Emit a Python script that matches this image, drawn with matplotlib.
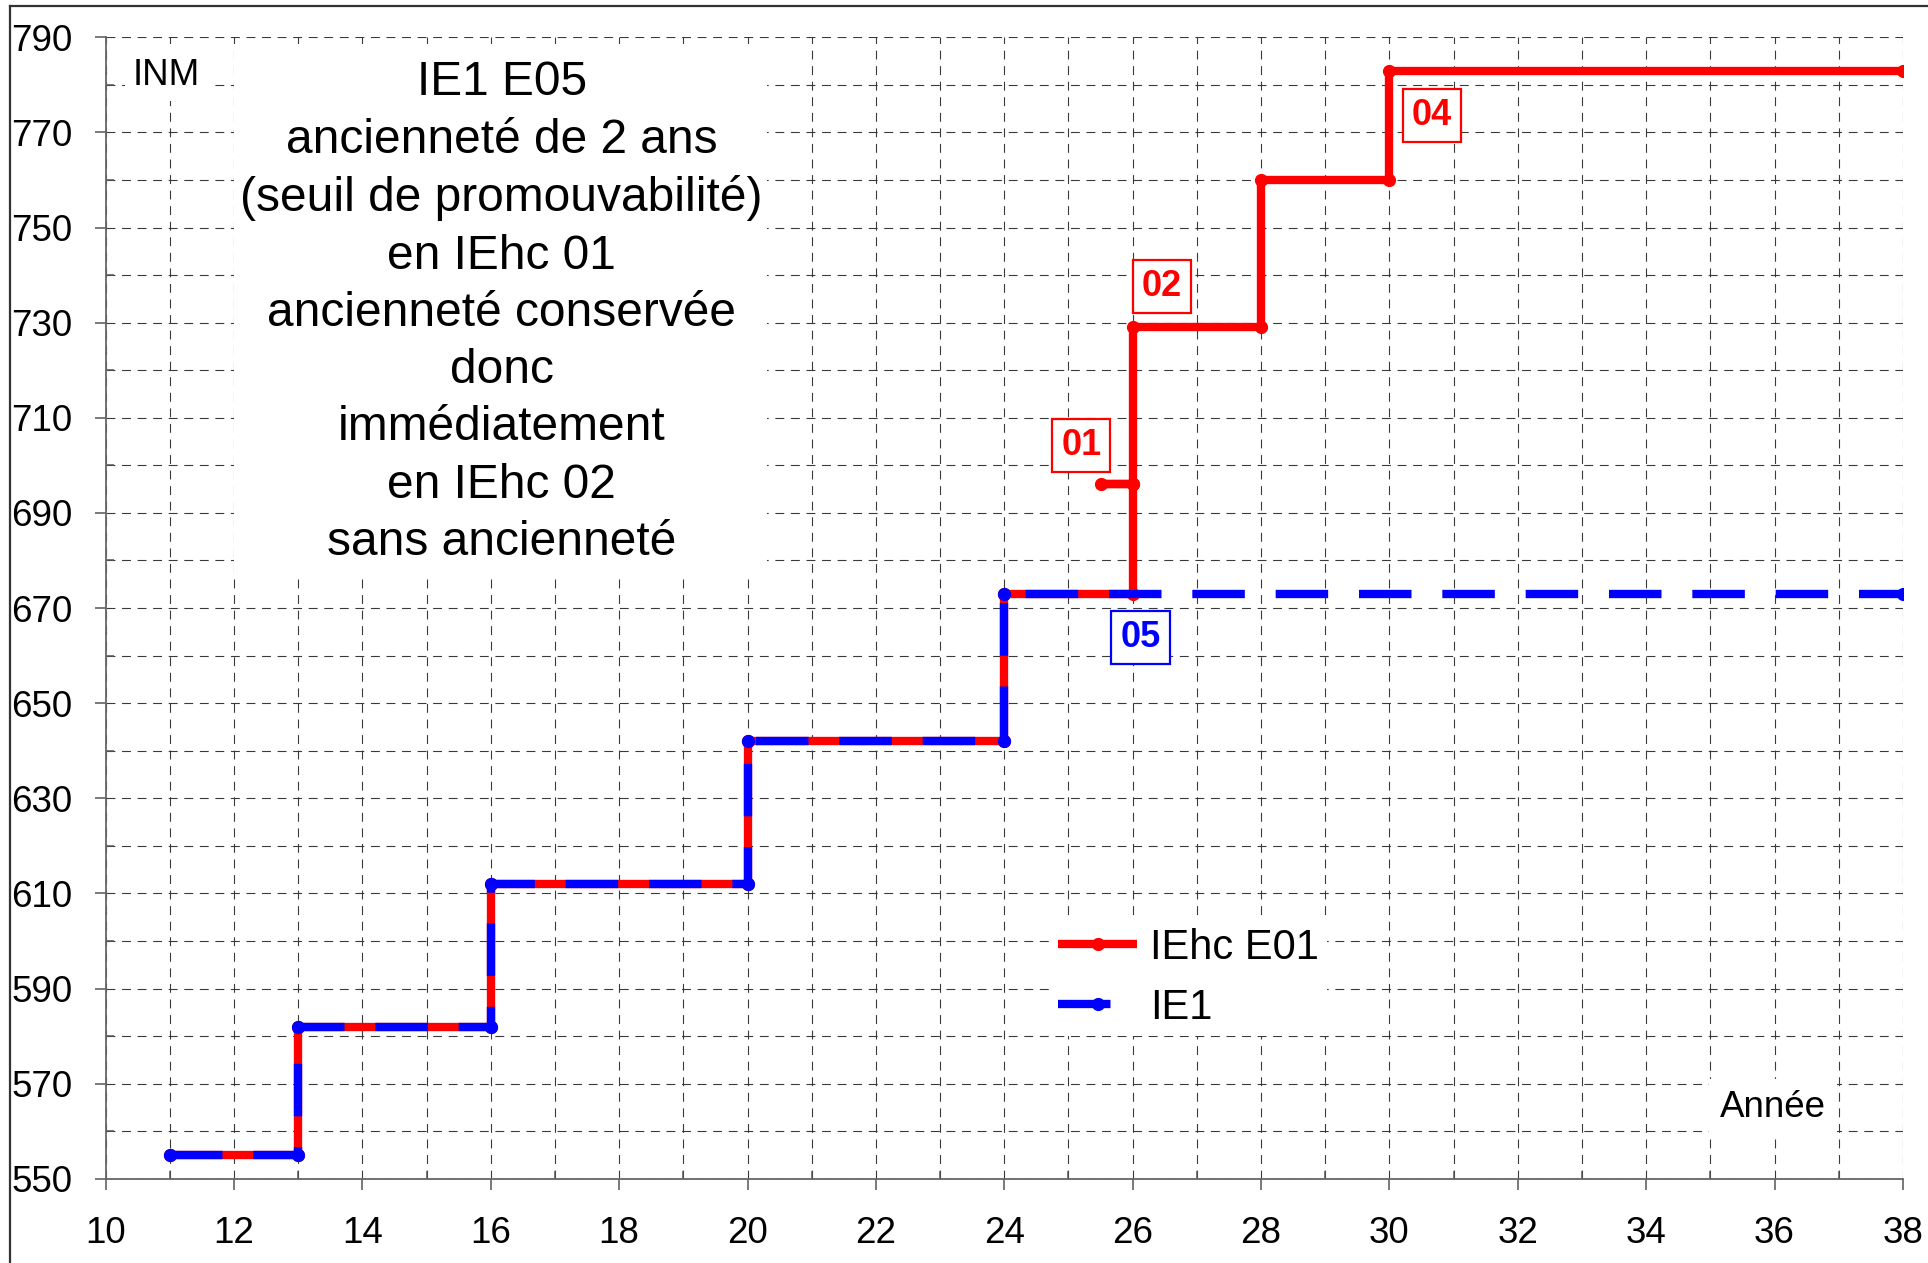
import matplotlib
matplotlib.use("Agg")
import matplotlib.pyplot as plt
from matplotlib.patches import Rectangle
from matplotlib.lines import Line2D
from matplotlib.ticker import FixedLocator, MultipleLocator

plt.rcParams['font.family'] = ['Liberation Sans', 'DejaVu Sans']

# Data
iehc_years = [11, 13, 13, 16, 16, 20, 20, 24, 24, 26, 26, 25.5, 26, 26, 28, 28, 30, 30, 38]
iehc_inm = [555, 555, 582, 582, 612, 612, 642, 642, 673, 673, 696, 696, 696, 729, 729, 760, 760, 783, 783]
ie1_years = [11, 13, 13, 16, 16, 20, 20, 24, 24, 38]
ie1_inm = [555, 555, 582, 582, 612, 612, 642, 642, 673, 673]

series_names = ["IEhc E01", "IE1"]
y_major_ticks = [550, 570, 590, 610, 630, 650, 670, 690, 710, 730, 750, 770, 790]
y_minor_ticks = [560, 580, 600, 620, 640, 660, 680, 700, 720, 740, 760, 780]
title_lines = ["IE1 E05", "ancienneté de 2 ans", "(seuil de promouvabilité)",
               "en IEhc 01", "ancienneté conservée", "donc", "immédiatement",
               "en IEhc 02", "sans ancienneté"]
step_labels = ["01", "02", "04", "05"]
step_label_x = [25.2, 26.46, 30.66, 26.12]
step_label_y = [704.2, 737.5, 773.6, 663.8]
step_label_colors = ["#FF0000", "#FF0000", "#FF0000", "#0000FF"]

fig = plt.figure(figsize=(19.28, 12.63), dpi=100)
ax = fig.add_axes([0.0548, 0.0667, 0.9322, 0.9038])

ax.set_xlim(10, 38)
ax.set_ylim(550, 790)
ax.xaxis.set_major_locator(MultipleLocator(2))
ax.xaxis.set_minor_locator(MultipleLocator(1))
ax.yaxis.set_major_locator(FixedLocator(y_major_ticks))
ax.yaxis.set_minor_locator(FixedLocator(y_minor_ticks))

ax.set_axisbelow(True)
ax.grid(which='both', linestyle=(0, (8, 6)), color='#3a3a3a', linewidth=0.8)

for s in ['top', 'right']:
    ax.spines[s].set_visible(False)
for s in ['left', 'bottom']:
    ax.spines[s].set_color('#666666')
    ax.spines[s].set_linewidth(1.3)

ax.tick_params(which='major', direction='out', length=8, width=1.1, color='#555555',
               labelsize=26.5, pad=16)
ax.tick_params(which='minor', direction='in', length=6, width=1.1, color='#555555')
ax.tick_params(axis='x', which='major', pad=19)

# white box behind title text
ax.add_patch(Rectangle((12.0, 677), 8.3, 111, facecolor='white', edgecolor='none', zorder=1))

lw = 6.0
ax.plot(iehc_years, iehc_inm, color='#FF0000', linewidth=lw, marker='o', markersize=8.5,
        solid_joinstyle='miter', solid_capstyle='butt', label=series_names[0], zorder=3)
ax.plot(ie1_years, ie1_inm, color='#0000FF', linewidth=lw, marker='o', markersize=8.5,
        dashes=(6.3, 3.7), dash_capstyle='butt', label=series_names[1], zorder=4)

ax.text(16.17, 732.1, "\n".join(title_lines), ha='center', va='center', fontsize=34.5,
        linespacing=1.352, multialignment='center', zorder=5)

ax.text(10.95, 782.0, "INM", ha='center', va='center', fontsize=26.5, zorder=5,
        bbox=dict(facecolor='white', edgecolor='none', pad=6))
ax.text(35.98, 565.0, "Année", ha='center', va='center', fontsize=26.5, zorder=5,
        bbox=dict(facecolor='white', edgecolor='none', pad=8))

for lab, x, y, c in zip(step_labels, step_label_x, step_label_y, step_label_colors):
    ax.text(x, y, lab, ha='center', va='center', fontsize=26, fontweight='bold', color=c,
            zorder=6, bbox=dict(facecolor='white', edgecolor=c, linewidth=1.6,
                                boxstyle='square,pad=0.25'))

leg = ax.legend(loc='upper left', bbox_to_anchor=(0.5254, 0.227), fontsize=30,
                frameon=True, fancybox=False, framealpha=1, edgecolor='none',
                facecolor='white', handlelength=1.9, handletextpad=0.3, numpoints=1,
                borderpad=0.2, borderaxespad=0, labelspacing=0.47)

# outer figure border (left and top visible)
fig.add_artist(Line2D([10 / 1928, 10 / 1928], [0, 1 - 6 / 1263], transform=fig.transFigure,
                      color='#333333', linewidth=1.6))
fig.add_artist(Line2D([10 / 1928, 1], [1 - 6 / 1263, 1 - 6 / 1263], transform=fig.transFigure,
                      color='#333333', linewidth=1.6))

fig.savefig("out.png", dpi=100, facecolor='white')
